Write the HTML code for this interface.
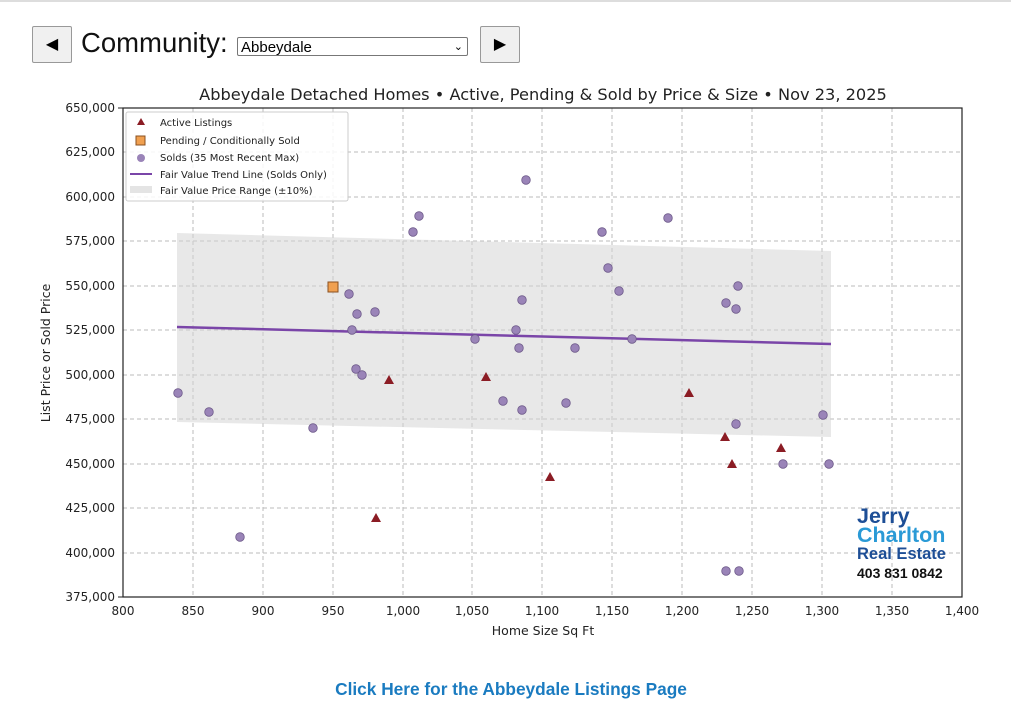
<!DOCTYPE html>
<html><head><meta charset="utf-8"><style>
body{margin:0;background:#fff;width:1011px;height:708px;overflow:hidden;font-family:"Liberation Sans","DejaVu Sans",sans-serif}
.top{position:absolute;left:0;top:0;width:1011px;height:2px;background:#ddd}
.btn{position:absolute;top:26px;width:38px;height:35px;border:1px solid #999;background:#f0f0f0;font-size:16px;text-align:center;line-height:35px;border-radius:2px}
.lbl{position:absolute;left:81px;top:27px;font-size:27.5px;color:#111}
.sel{position:absolute;left:237px;top:37px;width:231px;height:19px;border:1px solid #777;font-size:15px;line-height:19px;padding-left:3px;box-sizing:border-box;border-radius:2px}
.link{position:absolute;left:0;width:1022px;top:679px;text-align:center;color:#1a7bc0;font-weight:bold;font-size:17.3px}
</style></head><body>
<div class="top"></div>
<div class="btn" style="left:32px">◀</div>
<div class="lbl">Community:</div>
<div class="sel">Abbeydale<span style="position:absolute;right:4px;top:0;font-size:11px">⌄</span></div>
<div class="btn" style="left:480px">▶</div>
<svg width="1011" height="708" style="position:absolute;left:0;top:0" font-family="DejaVu Sans,Liberation Sans,sans-serif">
<text x="543" y="100" font-size="16.2" text-anchor="middle" fill="#222">Abbeydale Detached Homes • Active, Pending &amp; Sold by Price &amp; Size • Nov 23, 2025</text>
<g stroke="#bbb" stroke-dasharray="4,3" stroke-width="1">
<line x1="193" y1="108" x2="193" y2="597"/><line x1="263" y1="108" x2="263" y2="597"/><line x1="333" y1="108" x2="333" y2="597"/><line x1="403" y1="108" x2="403" y2="597"/><line x1="472" y1="108" x2="472" y2="597"/><line x1="542" y1="108" x2="542" y2="597"/><line x1="612" y1="108" x2="612" y2="597"/><line x1="682" y1="108" x2="682" y2="597"/><line x1="752" y1="108" x2="752" y2="597"/><line x1="822" y1="108" x2="822" y2="597"/><line x1="892" y1="108" x2="892" y2="597"/>
<line x1="123" y1="152" x2="962" y2="152"/><line x1="123" y1="197" x2="962" y2="197"/><line x1="123" y1="241" x2="962" y2="241"/><line x1="123" y1="286" x2="962" y2="286"/><line x1="123" y1="330" x2="962" y2="330"/><line x1="123" y1="375" x2="962" y2="375"/><line x1="123" y1="419" x2="962" y2="419"/><line x1="123" y1="464" x2="962" y2="464"/><line x1="123" y1="508" x2="962" y2="508"/><line x1="123" y1="553" x2="962" y2="553"/>
</g>
<polygon points="177,233 831,251 831,437 177,422" fill="#d6d6d6" fill-opacity="0.55"/>
<line x1="177" y1="327" x2="831" y2="344" stroke="#7a45a8" stroke-width="2.5"/>
<g fill="#9a84b8" stroke="#6e5a8a" stroke-width="0.8">
<circle cx="178" cy="393" r="4.3"/><circle cx="209" cy="412" r="4.3"/><circle cx="240" cy="537" r="4.3"/><circle cx="313" cy="428" r="4.3"/><circle cx="349" cy="294" r="4.3"/><circle cx="352" cy="330" r="4.3"/><circle cx="357" cy="314" r="4.3"/><circle cx="356" cy="369" r="4.3"/><circle cx="362" cy="375" r="4.3"/><circle cx="375" cy="312" r="4.3"/><circle cx="413" cy="232" r="4.3"/><circle cx="419" cy="216" r="4.3"/><circle cx="475" cy="339" r="4.3"/><circle cx="503" cy="401" r="4.3"/><circle cx="516" cy="330" r="4.3"/><circle cx="519" cy="348" r="4.3"/><circle cx="522" cy="410" r="4.3"/><circle cx="522" cy="300" r="4.3"/><circle cx="526" cy="180" r="4.3"/><circle cx="566" cy="403" r="4.3"/><circle cx="575" cy="348" r="4.3"/><circle cx="602" cy="232" r="4.3"/><circle cx="608" cy="268" r="4.3"/><circle cx="619" cy="291" r="4.3"/><circle cx="632" cy="339" r="4.3"/><circle cx="668" cy="218" r="4.3"/><circle cx="726" cy="303" r="4.3"/><circle cx="738" cy="286" r="4.3"/><circle cx="736" cy="309" r="4.3"/><circle cx="736" cy="424" r="4.3"/><circle cx="726" cy="571" r="4.3"/><circle cx="739" cy="571" r="4.3"/><circle cx="783" cy="464" r="4.3"/><circle cx="823" cy="415" r="4.3"/><circle cx="829" cy="464" r="4.3"/>
</g>
<g fill="#8b1c24">
<path d="M389,375l5,9h-10z"/><path d="M486,372l5,9h-10z"/><path d="M376,513l5,9h-10z"/><path d="M550,472l5,9h-10z"/><path d="M689,388l5,9h-10z"/><path d="M725,432l5,9h-10z"/><path d="M732,459l5,9h-10z"/><path d="M781,443l5,9h-10z"/>
</g>
<rect x="328" y="282" width="10" height="10" fill="#f0a050" stroke="#8a5020"/>
<rect x="123" y="108" width="839" height="489" fill="none" stroke="#222" stroke-width="1.2"/>
<g stroke="#222"><line x1="118" y1="108" x2="123" y2="108"/><line x1="118" y1="597" x2="123" y2="597"/></g>
<g font-size="12" fill="#222" text-anchor="end">
<text x="115" y="112">650,000</text><text x="115" y="156">625,000</text><text x="115" y="201">600,000</text><text x="115" y="245">575,000</text><text x="115" y="290">550,000</text><text x="115" y="334">525,000</text><text x="115" y="379">500,000</text><text x="115" y="423">475,000</text><text x="115" y="468">450,000</text><text x="115" y="512">425,000</text><text x="115" y="557">400,000</text><text x="115" y="601">375,000</text>
</g>
<g font-size="12" fill="#222" text-anchor="middle">
<text x="123" y="615">800</text><text x="193" y="615">850</text><text x="263" y="615">900</text><text x="333" y="615">950</text><text x="403" y="615">1,000</text><text x="472" y="615">1,050</text><text x="542" y="615">1,100</text><text x="612" y="615">1,150</text><text x="682" y="615">1,200</text><text x="752" y="615">1,250</text><text x="822" y="615">1,300</text><text x="892" y="615">1,350</text><text x="962" y="615">1,400</text>
</g>
<text x="543" y="635" font-size="12.5" text-anchor="middle" fill="#222">Home Size Sq Ft</text>
<text transform="translate(50,353) rotate(-90)" font-size="12.5" text-anchor="middle" fill="#222">List Price or Sold Price</text>
<rect x="126" y="112" width="222" height="89" fill="#fff" fill-opacity="0.85" stroke="#ccc" rx="2"/>
<g font-size="10" fill="#222">
<path d="M141,118l4,7h-8z" fill="#8b1c24"/><text x="160" y="126">Active Listings</text>
<rect x="136" y="136" width="9" height="9" fill="#f0a050" stroke="#8a5020"/><text x="160" y="144">Pending / Conditionally Sold</text>
<circle cx="141" cy="158" r="4" fill="#9a84b8"/><text x="160" y="161">Solds (35 Most Recent Max)</text>
<line x1="130" y1="174" x2="152" y2="174" stroke="#7a45a8" stroke-width="2"/><text x="160" y="178">Fair Value Trend Line (Solds Only)</text>
<rect x="130" y="186" width="22" height="7" fill="#e4e4e4"/><text x="160" y="194">Fair Value Price Range (±10%)</text>
</g>
<g font-family="Liberation Sans,sans-serif" font-weight="bold">
<text x="857" y="523" font-size="21.5" fill="#1d4e96">Jerry</text>
<text x="857" y="542" font-size="21.5" fill="#2a9ad6">Charlton</text>
<text x="857" y="559" font-size="16.5" fill="#1d4e96">Real Estate</text>
<text x="857" y="578" font-size="14" fill="#111">403 831 0842</text>
</g>
</svg>
<div class="link">Click Here for the Abbeydale Listings Page</div>
</body></html>
